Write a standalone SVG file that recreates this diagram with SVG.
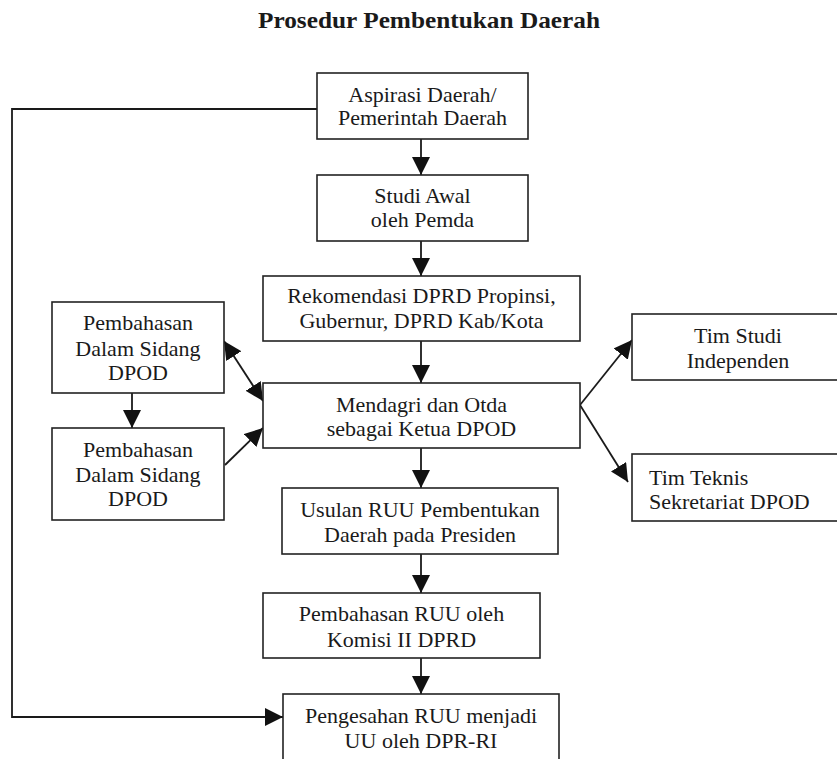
<svg xmlns="http://www.w3.org/2000/svg" width="837" height="759" viewBox="0 0 837 759">
<defs>
<marker id="ah" markerUnits="userSpaceOnUse" markerWidth="18" markerHeight="18" refX="16" refY="8" orient="auto-start-reverse" viewBox="0 0 16 16">
<path d="M0,0 L16,8 L0,16 z" fill="#111"/>
</marker>
<style>
.box{fill:#fff;stroke:#222;stroke-width:1.6}
.t{font-family:"Liberation Serif","Times New Roman",serif;font-size:22px;fill:#1a1a1a;text-anchor:middle}
.tl{text-anchor:start}
.c{fill:none;stroke:#1a1a1a;stroke-width:1.8}
.a{marker-end:url(#ah)}
.title{font-family:"Liberation Serif","Times New Roman",serif;font-size:24px;font-weight:bold;fill:#1a1a1a;text-anchor:middle}
</style>
</defs>
<rect width="837" height="759" fill="#fff"/>
<text class="title" x="429" y="28" textLength="342" lengthAdjust="spacingAndGlyphs">Prosedur Pembentukan Daerah</text>

<g id="connectors">
<path class="c" d="M317,109 H12 V717 H283" marker-end="url(#ah)"/>
<line class="c a" x1="421" y1="139" x2="421" y2="175"/>
<line class="c a" x1="421" y1="241" x2="421" y2="276"/>
<line class="c a" x1="421" y1="341" x2="421" y2="383"/>
<line class="c a" x1="421" y1="448" x2="421" y2="488"/>
<line class="c a" x1="421" y1="554" x2="421" y2="593"/>
<line class="c a" x1="421" y1="658" x2="421" y2="694"/>
<line class="c a" x1="132" y1="393" x2="132" y2="428"/>
<line class="c a" x1="224" y1="341" x2="263" y2="401" marker-start="url(#ah)"/>
<line class="c a" x1="225" y1="465" x2="263" y2="428"/>
<line class="c a" x1="580" y1="405" x2="632" y2="340"/>
<line class="c a" x1="580" y1="405" x2="628" y2="482"/>
</g>

<g id="aspirasi">
<rect class="box" x="317" y="73" width="211" height="66"/>
<text class="t" x="422.5" y="102">Aspirasi Daerah/</text>
<text class="t" x="422.5" y="125">Pemerintah Daerah</text>
</g>
<g id="studi-awal">
<rect class="box" x="317" y="175" width="211" height="66"/>
<text class="t" x="422.5" y="203">Studi Awal</text>
<text class="t" x="422.5" y="227">oleh Pemda</text>
</g>
<g id="rekomendasi">
<rect class="box" x="263" y="276" width="317" height="65"/>
<text class="t" x="421.5" y="303">Rekomendasi DPRD Propinsi,</text>
<text class="t" x="421.5" y="328">Gubernur, DPRD Kab/Kota</text>
</g>
<g id="pembahasan-1">
<rect class="box" x="52" y="302" width="172" height="91"/>
<text class="t" x="138" y="330">Pembahasan</text>
<text class="t" x="138" y="356">Dalam Sidang</text>
<text class="t" x="138" y="380">DPOD</text>
</g>
<g id="pembahasan-2">
<rect class="box" x="52" y="428" width="172" height="92"/>
<text class="t" x="138" y="457">Pembahasan</text>
<text class="t" x="138" y="482">Dalam Sidang</text>
<text class="t" x="138" y="506">DPOD</text>
</g>
<g id="mendagri">
<rect class="box" x="263" y="383" width="317" height="65"/>
<text class="t" x="421.5" y="412">Mendagri dan Otda</text>
<text class="t" x="421.5" y="436">sebagai Ketua DPOD</text>
</g>
<g id="tim-studi">
<rect class="box" x="632" y="314" width="212" height="66"/>
<text class="t" x="738" y="343">Tim Studi</text>
<text class="t" x="738" y="368">Independen</text>
</g>
<g id="tim-teknis">
<rect class="box" x="632" y="454" width="212" height="67"/>
<text class="t tl" x="649" y="485">Tim Teknis</text>
<text class="t tl" x="649" y="509">Sekretariat DPOD</text>
</g>
<g id="usulan">
<rect class="box" x="282" y="488" width="276" height="66"/>
<text class="t" x="420" y="517">Usulan RUU Pembentukan</text>
<text class="t" x="420" y="542">Daerah pada Presiden</text>
</g>
<g id="pembahasan-ruu">
<rect class="box" x="263" y="593" width="277" height="65"/>
<text class="t" x="401.5" y="621">Pembahasan RUU oleh</text>
<text class="t" x="401.5" y="647">Komisi II DPRD</text>
</g>
<g id="pengesahan">
<rect class="box" x="283" y="694" width="276" height="80"/>
<text class="t" x="421" y="723">Pengesahan RUU menjadi</text>
<text class="t" x="421" y="748">UU oleh DPR-RI</text>
</g>
</svg>
